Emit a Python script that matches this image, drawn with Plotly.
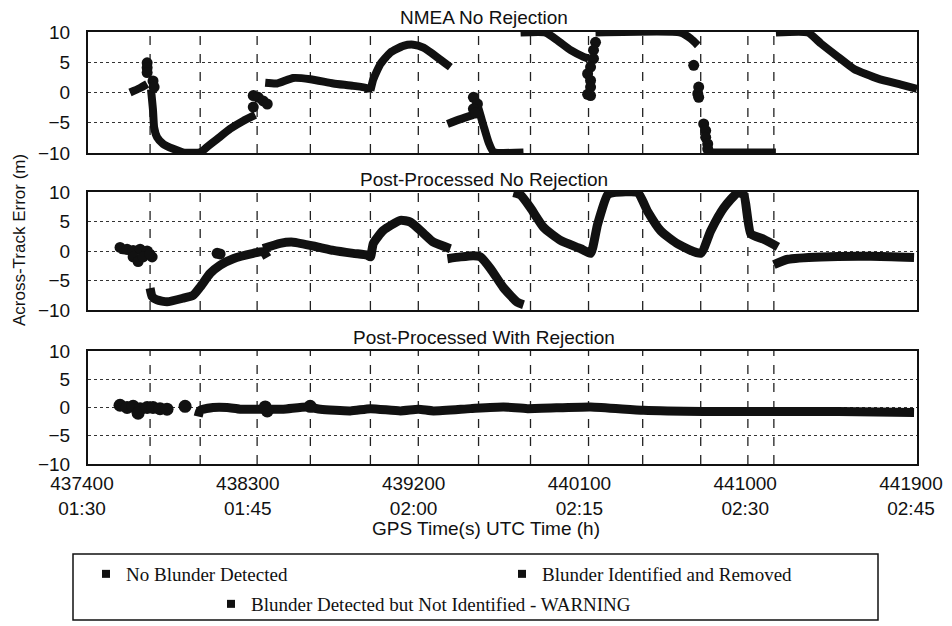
import plotly.graph_objects as go
from plotly.subplots import make_subplots

# ---------------- data (GPS seconds, across-track error in m) ----------------
tick_gps = [437400, 438300, 439200, 440100, 441000, 441900]
tick_utc = ["01:30", "01:45", "02:00", "02:15", "02:30", "02:45"]
event_times = [437737, 438009, 438318, 438607, 438933, 439193, 439520,
               439802, 440117, 440411, 440726, 440982, 441123]

# Panel 1: NMEA No Rejection (segments separated by None)
nmea_t = [437628, 437680, 437721, None,
          437742, 437753, 437759, 437775, 437808, 437862, 437916, 438009, 438047, 438101, 438172, 438242, 438308, None,
          438362, 438427, 438514, 438607, 438732, 438840, 438916, 438922, None,
          438933, 438949, 438987, 439041, 439112, 439166, 439221, 439297, 439367, None,
          439351, 439422, 439492, None,
          439492, 439520, 439547, 439574, 439601, 439764, None,
          439748, 439884, 439949, 440020, 440090, 440117, None,
          440155, 440617, 440672, 440710, None,
          440742, 441134, None,
          441134, 441308, 441378, 441471, 441558, 441688, 441813, 441900]
nmea_err = [0.0, 0.7, 1.4, None,
            0.5, -3.0, -5.8, -7.4, -8.5, -9.3, -9.9, -9.9, -9.0, -7.7, -6.0, -4.7, -3.7, None,
            1.6, 1.5, 2.4, 2.2, 1.5, 1.1, 0.7, 0.0, None,
            0.3, 2.2, 4.7, 6.6, 7.7, 7.9, 7.4, 5.8, 4.2, None,
            -5.2, -4.4, -3.7, None,
            -0.2, -2.7, -5.5, -8.2, -9.8, -9.9, None,
            9.9, 9.9, 8.6, 7.0, 5.9, 5.6, None,
            9.9, 9.9, 8.9, 7.8, None,
            -9.9, -9.9, None,
            9.9, 9.9, 8.1, 5.9, 3.9, 2.3, 1.3, 0.6]
nmea_dot_t = [437721, 437721, 437721, 437753, 437759,
              438297, 438324, 438351, 438373, 438297,
              439492, 439514, 439492, 439503,
              440155, 440144, 440144, 440128, 440112, 440128, 440128, 440112, 440128,
              440688, 440715, 440710, 440715,
              440742, 440753, 440753, 440764, 440764]
nmea_dot_err = [4.9, 4.1, 3.3, 1.9, 0.9,
                -0.5, -0.8, -1.4, -1.9, -2.4,
                -0.8, -1.9, -2.7, -3.4,
                8.3, 7.0, 5.6, 4.2, 3.1, 2.0, 0.9, -0.3, -0.5,
                4.5, 0.9, -0.2, -0.8,
                -5.2, -6.3, -7.4, -8.5, -9.3]

# Panel 2: Post-Processed No Rejection
pp_t = [437574, 437620, 437680, 437745, None,
        437737, 437748, 437775, 437829, 437916, 437971, 438009, 438063, 438117, 438188, 438297, 438351, 438373, None,
        438351, 438443, 438514, 438645, 438732, 438840, 438916, 438933, 438949, 439003, 439096, 439150, 439221, 439275, 439367, None,
        439351, 439422, 439492, 439530, 439585, 439655, 439731, 439764, None,
        439710, 439748, 439802, 439873, 439965, 440074, 440128, 440166, 440220, 440253, 440384, 440438, 440509,
        440601, 440726, 440780, 440851, 440927, 440960, 440998, 441068, 441145, None,
        441123, 441199, 441378, 441650, 441884]
pp_err = [0.3, 0.1, 0.1, -0.2, None,
          -6.3, -7.7, -8.3, -8.6, -8.0, -7.5, -6.1, -3.8, -2.4, -1.3, -0.4, -0.1, -1.1, None,
          0.4, 1.3, 1.5, 0.7, 0.1, -0.4, -0.7, -1.0, 1.3, 3.5, 5.2, 4.9, 3.0, 1.5, 0.4, None,
          -1.3, -1.0, -0.8, -1.0, -3.0, -6.2, -8.7, -9.1, None,
          9.9, 9.5, 7.3, 4.0, 1.8, 0.4, -0.4, 4.5, 9.5, 9.9, 9.9, 6.7, 3.4,
          1.2, -0.4, 3.4, 7.3, 9.9, 9.5, 2.9, 2.0, 0.7, None,
          -2.3, -1.4, -1.0, -0.9, -1.1]
pp_dot_t = [437574, 437612, 437645, 437683, 437721, 437645, 437672, 437699, 437748, 437735,
            438101, 438117]
pp_dot_err = [0.6, 0.3, 0.1, 0.3, 0.0, -1.0, -1.8, -1.0, -1.0, -0.5,
              -0.4, -0.5]

# Panel 3: Post-Processed With Rejection
ppr_t = [437998, 438009, 438079, 438155, 438226, 438373, 438460, 438590, 438661, 438824, 438933,
         439096, 439193, 439275, 439476, 439655, 439786, 440128, 440416, 440742, 441107, 441471, 441884]
ppr_err = [-1.6, -0.5, 0.0, 0.0, -0.3, -0.3, -0.3, 0.1, -0.3, -0.6, -0.2,
           -0.6, -0.3, -0.6, -0.2, 0.1, -0.2, 0.1, -0.5, -0.7, -0.7, -0.7, -0.9]
ppr_dot_t = [437574, 437612, 437645, 437683, 437672, 437721, 437753, 437791, 437829, 437927,
             438373, 438362, 438606]
ppr_dot_err = [0.4, 0.0, 0.2, -0.2, -1.0, 0.0, 0.0, -0.2, -0.3, 0.2,
               -0.6, 0.1, 0.2]

panel_titles = ["NMEA No Rejection", "Post-Processed No Rejection", "Post-Processed With Rejection"]
legend_names = ["No Blunder Detected", "Blunder Identified and Removed",
                "Blunder Detected but Not Identified - WARNING"]

# ---------------- figure ----------------
W, H = 952, 626
OFF = 8  # page body margin of the browser
SANS = "Liberation Sans, Arial, sans-serif"
SERIF = "Liberation Serif, Times New Roman, serif"
INK = "#111111"

fig = make_subplots(rows=3, cols=1)

panels = [(nmea_t, nmea_err, nmea_dot_t, nmea_dot_err, 8, 11),
          (pp_t, pp_err, pp_dot_t, pp_dot_err, 9, 11),
          (ppr_t, ppr_err, ppr_dot_t, ppr_dot_err, 9, 13)]
for i, (t, e, dt, de, lw, ms) in enumerate(panels, start=1):
    fig.add_trace(go.Scatter(x=t, y=e, mode="lines", connectgaps=False,
                             line=dict(color=INK, width=lw, shape="spline", smoothing=0.5),
                             showlegend=False, hoverinfo="skip"), row=i, col=1)
    fig.add_trace(go.Scatter(x=dt, y=de, mode="markers",
                             marker=dict(color=INK, size=ms), cliponaxis=False,
                             showlegend=False, hoverinfo="skip"), row=i, col=1)

# legend entries
for name, lg in zip(legend_names, ["legend", "legend2", "legend3"]):
    fig.add_trace(go.Scatter(x=[None], y=[None], mode="markers", name=name, legend=lg,
                             marker=dict(symbol="square", size=8, color=INK)))

def px_x(p):
    return (p - OFF) / W

def px_y(p):
    return 1 - (p - OFF) / H

x_dom = [px_x(88), px_x(917)]
y_doms = [[px_y(153), px_y(32)], [px_y(310), px_y(192)], [px_y(464), px_y(351)]]

axis_common = dict(showline=True, mirror=True, linecolor=INK, linewidth=2,
                   zeroline=False, automargin=False)
for i in range(3):
    xa = "xaxis" if i == 0 else f"xaxis{i+1}"
    ya = "yaxis" if i == 0 else f"yaxis{i+1}"
    fig.update_layout({
        xa: dict(domain=x_dom, range=[437400, 441900], tickmode="array",
                 tickvals=tick_gps,
                 ticktext=[f"{g}<br>{u}" for g, u in zip(tick_gps, tick_utc)],
                 showticklabels=(i == 2), showgrid=False, ticks="",
                 ticklabelshift=-6, ticklabelstandoff=1,
                 tickfont=dict(family=SANS, size=19, color=INK),
                 anchor=ya.replace("axis", ""), **axis_common),
        ya: dict(domain=y_doms[i], range=[-10, 10], tickmode="array",
                 tickvals=[-10, -5, 0, 5, 10], ticks="", ticklabelstandoff=12,
                 showgrid=True, gridcolor="#333333", griddash="dot", gridwidth=1.3,
                 tickfont=dict(family=SANS, size=19, color=INK),
                 anchor=xa.replace("axis", ""), **axis_common),
    })
    for ev in event_times:
        fig.add_vline(x=ev, row=i + 1, col=1, layer="below",
                      line=dict(color="#222222", width=1.3, dash="dash"))

# panel titles
title_y = [18, 179, 337]
for txt, yy in zip(panel_titles, title_y):
    fig.add_annotation(text=txt, x=px_x(484), y=px_y(yy), xref="paper", yref="paper",
                       showarrow=False, xanchor="center", yanchor="middle",
                       font=dict(family=SANS, size=19, color=INK))

fig.add_annotation(text="GPS Time(s) UTC Time (h)", x=px_x(486), y=px_y(528),
                   xref="paper", yref="paper", showarrow=False,
                   xanchor="center", yanchor="middle",
                   font=dict(family=SANS, size=19, color=INK))
fig.add_annotation(text="Across-Track Error (m)", x=px_x(20), y=px_y(240),
                   xref="paper", yref="paper", showarrow=False, textangle=-90,
                   xanchor="center", yanchor="middle", borderpad=0,
                   font=dict(family=SANS, size=17, color=INK))

# legend frame
fig.add_shape(type="rect", xref="paper", yref="paper",
              x0=px_x(73), x1=px_x(878), y0=px_y(620), y1=px_y(554),
              line=dict(color=INK, width=1.5), fillcolor="rgba(0,0,0,0)")

leg_font = dict(family=SERIF, size=19, color=INK)
leg_common = dict(xanchor="left", yanchor="middle", font=leg_font,
                  bgcolor="rgba(0,0,0,0)", borderwidth=0, itemwidth=30)
fig.update_layout(
    legend=dict(x=px_x(86), y=px_y(574), **leg_common),
    legend2=dict(x=px_x(502), y=px_y(574), **leg_common),
    legend3=dict(x=px_x(211), y=px_y(604), **leg_common),
)

fig.update_layout(width=W, height=H, margin=dict(l=0, r=0, t=0, b=0, autoexpand=False),
                  paper_bgcolor="white", plot_bgcolor="white",
                  showlegend=True)

fig.write_html("out.html")
